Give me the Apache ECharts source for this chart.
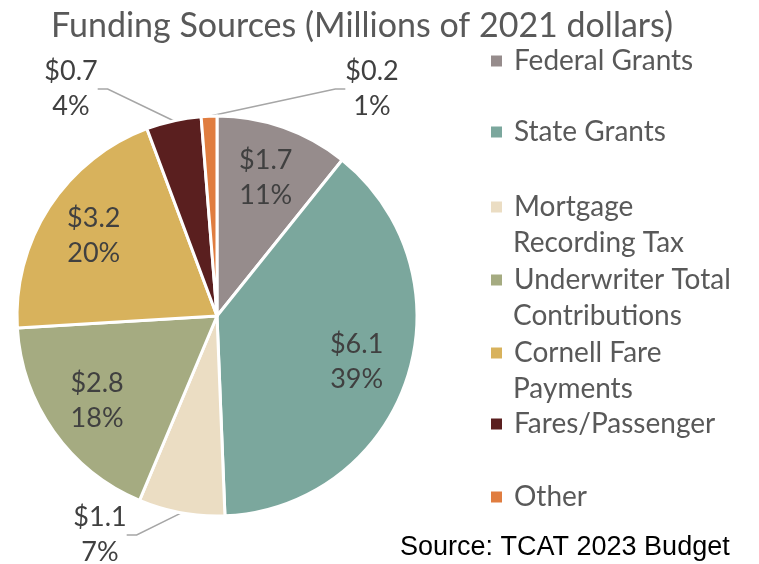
<!DOCTYPE html>
<html>
<head>
<meta charset="utf-8">
<script src="https://cdn.jsdelivr.net/npm/echarts@6/dist/echarts.min.js"></script>
<style>
html, body { margin: 0; padding: 0; background: #fff; }
#chart { width: 759px; height: 564px; }
</style>
</head>
<body>
<div id="chart"></div>
<script>
// data (millions of 2021 dollars)
var categories = ['Federal Grants', 'State Grants', 'Mortgage Recording Tax', 'Underwriter Total Contributions', 'Cornell Fare Payments', 'Fares/Passenger', 'Other'];
var amounts = [1.7, 6.1, 1.1, 2.8, 3.2, 0.7, 0.2];
var legendLine1 = ['Federal Grants', 'State Grants', 'Mortgage', 'Underwriter Total', 'Cornell Fare', 'Fares/Passenger', 'Other'];
var legendLine2 = ['', '', 'Recording Tax', 'Contributions', 'Payments', '', ''];
var outsideLabel = [false, false, true, false, false, true, true];

var colors = ['#968c8c', '#7ba79d', '#ebddc3', '#a5ab81', '#d8b25c', '#5a1f1f', '#e07d40'];
var legendTops = [43, 114, 189, 262, 335, 406, 479];
var outsidePos = { 2: [100, 535], 5: [71, 89], 6: [372, 89] };

var FONT = 'Lato';
var chart = echarts.init(document.getElementById('chart'));

var mainData = [], overlayData = [];
for (var i = 0; i < categories.length; i++) {
    mainData.push({
        name: categories[i],
        value: amounts[i],
        itemStyle: { color: colors[i] },
        label: { show: outsideLabel[i] },
        labelLine: { show: outsideLabel[i] }
    });
    overlayData.push({
        name: categories[i],
        value: amounts[i],
        label: { show: !outsideLabel[i] }
    });
}

var labelText = function (p) {
    return '$' + p.value.toFixed(1) + '\n' + Math.round(p.percent) + '%';
};

// one legend per entry so the rows can sit where the original has them
var legends = [];
var graphics = [];
for (var j = 0; j < categories.length; j++) {
    legends.push({
        orient: 'vertical',
        left: 489,
        top: legendTops[j],
        padding: 0,
        icon: 'rect',
        itemWidth: 13,
        itemHeight: 13,
        selectedMode: false,
        data: [categories[j]],
        formatter: function (name) { return legendLine1[categories.indexOf(name)]; },
        textStyle: { fontFamily: FONT, fontSize: 28, lineHeight: 36, color: '#595959', padding: [0, 0, 0, 6] }
    });
    if (legendLine2[j]) {
        graphics.push({
            type: 'text',
            left: 513,
            top: legendTops[j] + 36,
            style: { text: legendLine2[j], font: '28px ' + FONT, fill: '#595959', lineHeight: 36 }
        });
    }
}
graphics.push({
    type: 'text',
    left: 400,
    top: 534,
    style: { text: 'Source: TCAT 2023 Budget', font: '27px "Liberation Sans Narrow", "Liberation Sans", sans-serif', fill: '#000' }
});

var option = {
    animation: false,
    title: {
        text: 'Funding Sources (Millions of 2021 dollars)',
        left: 46,
        top: 4,
        textStyle: { fontFamily: FONT, fontSize: 34, fontWeight: 'normal', color: '#595959' }
    },
    legend: legends,
    graphic: graphics,
    series: [
        {
            name: 'Funding',
            type: 'pie',
            center: [217, 316],
            radius: 200,
            startAngle: 90,
            clockwise: true,
            avoidLabelOverlap: false,
            data: mainData,
            itemStyle: { borderColor: '#fff', borderWidth: 3 },
            emphasis: { disabled: true },
            label: {
                position: 'outside',
                formatter: labelText,
                overflow: 'none',
                fontFamily: FONT,
                fontSize: 27,
                lineHeight: 35,
                color: '#404040',
                align: 'center'
            },
            labelLine: { lineStyle: { color: '#a6a6a6', width: 1.5 }, length: 20, length2: 10 },
            labelLayout: function (p) {
                var pos = outsidePos[p.dataIndex];
                if (!pos) return {};
                return { x: pos[0], y: pos[1], align: 'center', verticalAlign: 'middle' };
            }
        },
        {
            // transparent copy so the inside labels sit near the rim like the original
            name: 'Labels',
            type: 'pie',
            center: [217, 316],
            radius: [0, 288],
            startAngle: 90,
            clockwise: true,
            silent: true,
            z: 3,
            data: overlayData,
            itemStyle: { color: 'rgba(0,0,0,0)', borderWidth: 0 },
            emphasis: { disabled: true },
            labelLine: { show: false },
            label: {
                position: 'inside',
                formatter: labelText,
                fontFamily: FONT,
                fontSize: 27,
                lineHeight: 35,
                color: '#404040',
                align: 'center'
            }
        }
    ]
};
chart.setOption(option);
window.onresize = chart.resize;
</script>
</body>
</html>
